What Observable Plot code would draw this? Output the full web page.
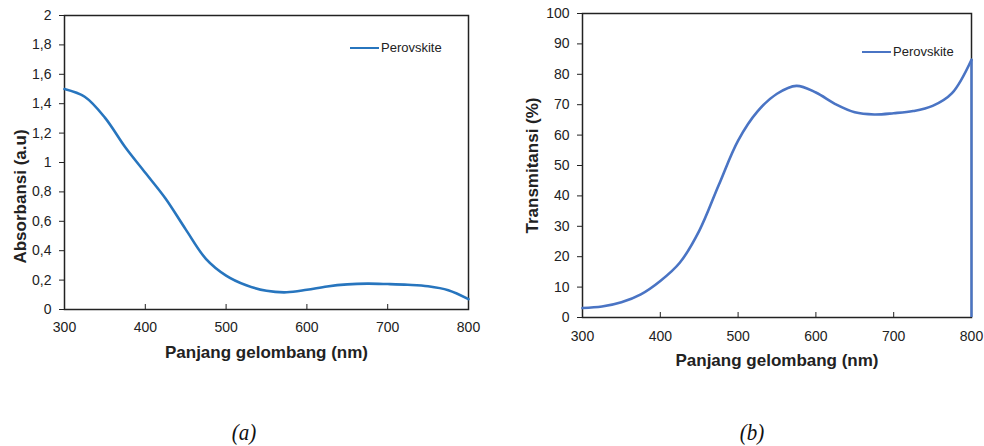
<!DOCTYPE html>
<html>
<head>
<meta charset="utf-8">
<script src="https://cdn.jsdelivr.net/npm/d3@7"></script>
<script src="https://cdn.jsdelivr.net/npm/@observablehq/plot@0.6"></script>
<style>
  html, body { margin: 0; padding: 0; background: #fff; }
  #wrap { position: relative; width: 984px; height: 446px; overflow: hidden; background: #fff; }
  .panel { position: absolute; top: 0; }
  .legend { position: absolute; font-family: "Liberation Sans", Arial, sans-serif; font-size: 13px; color: #222; display: flex; align-items: center; white-space: nowrap; }
  .legend span.sw { display: inline-block; width: 29px; height: 0; border-top: 2.5px solid; margin-right: 2px; }
  .cap { position: absolute; font-family: "Liberation Serif", "Times New Roman", serif; font-style: italic; font-size: 21px; color: #111; transform: translateX(-50%) scaleY(1.1); }
</style>
</head>
<body>
<div id="wrap"></div>
<script>
// ---- data ----
const wavelength = [300, 325, 350, 375, 400, 425, 450, 475, 500, 525, 550, 575, 600, 625, 650, 675, 700, 725, 750, 775, 800];
const absorbance = [1.50, 1.447, 1.305, 1.105, 0.93, 0.755, 0.545, 0.345, 0.231, 0.165, 0.127, 0.117, 0.134, 0.157, 0.171, 0.176, 0.173, 0.168, 0.158, 0.131, 0.07];
const transmittance = [3.1, 3.6, 5.0, 7.6, 12.0, 18.0, 28.5, 43.5, 58.2, 67.8, 73.6, 76.2, 74.0, 70.2, 67.5, 66.8, 67.2, 67.9, 69.6, 73.8, 84.8];
const xTicks = [300, 400, 500, 600, 700, 800];
const absTicks = [0, 0.2, 0.4, 0.6, 0.8, 1, 1.2, 1.4, 1.6, 1.8, 2];
const transTicks = [0, 10, 20, 30, 40, 50, 60, 70, 80, 90, 100];
const seriesName = "Perovskite";
const xTitle = "Panjang gelombang (nm)";
const absTitle = "Absorbansi (a.u)";
const transTitle = "Transmitansi (%)";
const captions = ["(a)", "(b)"];

const absRows = wavelength.map((w, i) => ({w, v: absorbance[i]}));
const transRows = wavelength.map((w, i) => ({w, v: transmittance[i]}));
const comma = d => String(d).replace(".", ",");
const font = "'Liberation Sans', Arial, sans-serif";
const ink = "#222";

function panel({rows, yDomain, yTicks, color, yTitle, drop, width, height, ml, mr, mt, mb, ytdx, ytdy, xtdy, xpad}) {
  return Plot.plot({
    width, height,
    marginLeft: ml, marginRight: mr, marginTop: mt, marginBottom: mb,
    style: {fontSize: "14px", fontFamily: font, color: ink, background: "transparent"},
    x: {domain: [300, 800], ticks: xTicks, label: null},
    y: {domain: yDomain, ticks: yTicks, label: null},
    marks: [
      Plot.frame({stroke: ink, strokeWidth: 1.5}),
      Plot.axisX({ticks: xTicks, tickSize: -5, tickPadding: xpad, label: null, tickFormat: d => String(d), stroke: ink}),
      Plot.axisY({ticks: yTicks, tickSize: 5, tickPadding: 8, label: null, tickFormat: comma, stroke: ink}),
      Plot.line(rows, {x: "w", y: "v", stroke: color, strokeWidth: 2.6, curve: "catmull-rom"}),
      ...(drop ? [Plot.ruleX(rows.slice(-1), {x: "w", y1: 0, y2: "v", stroke: color, strokeWidth: 2.4})] : []),
      Plot.text([xTitle], {text: d => d, frameAnchor: "bottom", textAnchor: "middle", dy: xtdy, fontWeight: "bold", fontSize: 17, fill: ink}),
      Plot.text([yTitle], {text: d => d, frameAnchor: "left", textAnchor: "middle", dx: ytdx, dy: ytdy, rotate: -90, fontWeight: "bold", fontSize: 17, fill: ink})
    ]
  });
}

const wrap = document.getElementById("wrap");

const left = panel({rows: absRows, yDomain: [0, 2], yTicks: absTicks, color: "#2775BE", yTitle: absTitle, drop: false,
  width: 490, height: 372, ml: 64, mr: 22, mt: 15, mb: 63, ytdx: -44, ytdy: 34, xtdy: 48, xpad: 18});
const lw = document.createElement("div"); lw.className = "panel"; lw.style.left = "0px"; lw.appendChild(left); wrap.appendChild(lw);

const right = panel({rows: transRows, yDomain: [0, 100], yTicks: transTicks, color: "#4A74C4", yTitle: transTitle, drop: true,
  width: 484, height: 380, ml: 82, mr: 13, mt: 13, mb: 63, ytdx: -50, ytdy: 0, xtdy: 48, xpad: 19});
const rw = document.createElement("div"); rw.className = "panel"; rw.style.left = "500px"; rw.appendChild(right); wrap.appendChild(rw);

function legend(x, y, color) {
  const d = document.createElement("div");
  d.className = "legend";
  d.style.left = x + "px"; d.style.top = (y - 8) + "px";
  const sw = document.createElement("span"); sw.className = "sw"; sw.style.borderTopColor = color;
  const t = document.createElement("span"); t.textContent = seriesName;
  d.appendChild(sw); d.appendChild(t);
  wrap.appendChild(d);
}
legend(350, 48, "#2775BE");
legend(862, 52, "#4A74C4");

[[244, captions[0]], [752, captions[1]]].forEach(([x, txt]) => {
  const c = document.createElement("div");
  c.className = "cap"; c.textContent = txt;
  c.style.left = x + "px"; c.style.top = "420px";
  wrap.appendChild(c);
});
</script>
</body>
</html>
